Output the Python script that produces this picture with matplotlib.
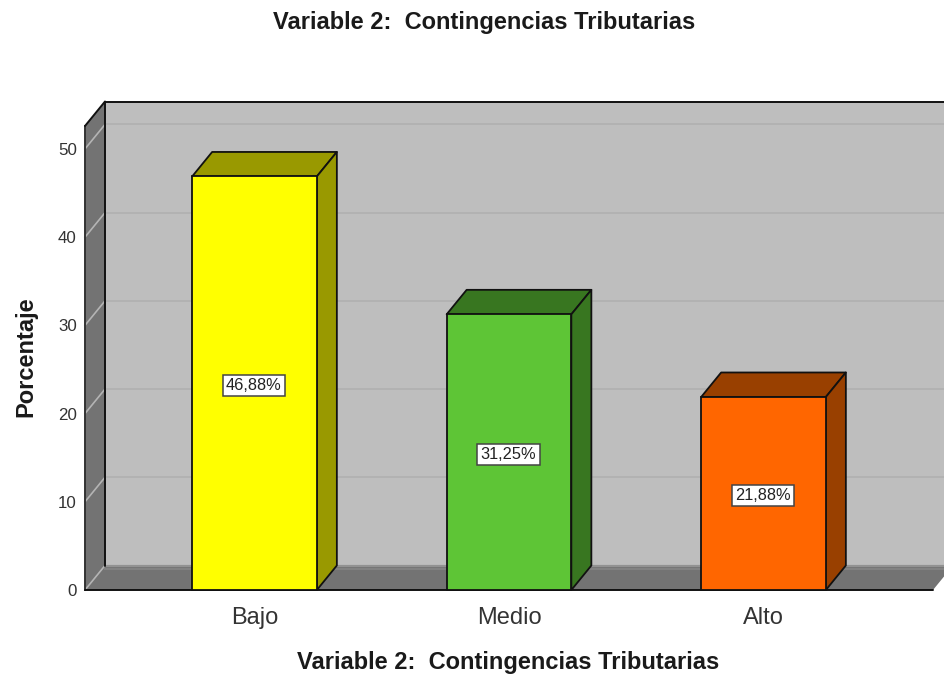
import matplotlib
matplotlib.use("Agg")
import matplotlib.pyplot as plt
from matplotlib.patches import Polygon

plt.rcParams['font.family'] = ['Liberation Sans', 'DejaVu Sans']

title = "Variable 2:  Contingencias Tributarias"
ylabel = "Porcentaje"
categories = ["Bajo", "Medio", "Alto"]
values = [46.88, 31.25, 21.88]
labels = ["46,88%", "31,25%", "21,88%"]
front_colors = ["#FFFF00", "#5EC536", "#FF6600"]
dark_colors = ["#999900", "#387620", "#994000"]
yticks = [0, 10, 20, 30, 40, 50]

W, H = 945, 675
fig = plt.figure(figsize=(W / 100, H / 100), dpi=100, facecolor="white")
L, R, T, B = 85, 933, 126, 590
ax = fig.add_axes([L / W, 1 - B / H, (R - L) / W, (B - T) / H])
x0, x1 = -0.666, 2.666
y0, y1 = 0, 52.6
ax.set_xlim(x0, x1)
ax.set_ylim(y0, y1)
ax.patch.set_visible(False)
for s in ax.spines.values():
    s.set_visible(False)

dx = 20 * (x1 - x0) / (R - L)
dy = 24.5 * (y1 - y0) / (B - T)
WALL, SHADE, BACK, GRID = "#737373", "#737373", "#BEBEBE", "#B0B0B0"

def poly(pts, fc, ec="none", lw=0, z=1):
    ax.add_patch(Polygon(pts, closed=True, facecolor=fc, edgecolor=ec, linewidth=lw,
                         zorder=z, clip_on=False, joinstyle="round"))

# back wall, floor and left wall
poly([(x0 + dx, dy), (x1 + dx, dy), (x1 + dx, y1 + dy), (x0 + dx, y1 + dy)], BACK, z=1)
for v in yticks[1:]:
    ax.plot([x0 + dx, x1 + dx], [v + dy, v + dy], color=GRID, lw=1.2, zorder=1.5, clip_on=False)
poly([(x0, 0), (x1, 0), (x1 + dx, dy), (x0 + dx, dy)], SHADE, z=2)
ax.plot([x0 + dx, x1 + dx], [dy - 0.1, dy - 0.1], color="#929292", lw=1.6, zorder=2.2, clip_on=False)
ax.plot([x0 + dx, x1 + dx], [dy - 0.35, dy - 0.35], color="#838383", lw=1.4, zorder=2.2, clip_on=False)
poly([(x0, 0), (x0 + dx, dy), (x0 + dx, y1 + dy), (x0, y1)], WALL, z=2.3)
for v in yticks:
    ax.plot([x0, x0 + dx], [v, v + dy], color="#B4B4B4", lw=1.2, zorder=2.5, clip_on=False)

# frame
k = dict(color="#111111", lw=1.4, zorder=3, clip_on=False, solid_capstyle="round")
ax.plot([x0 + dx, x1 + dx], [y1 + dy, y1 + dy], **k)
ax.plot([x0 + dx, x0 + dx], [dy, y1 + dy], **k)
ax.plot([x0, x0], [0, y1], color="#333333", lw=1.4, zorder=3, clip_on=False)
ax.plot([x0, x0 + dx], [y1, y1 + dy], **k)
ax.plot([x0, x1], [0, 0], **k)

# bars
w = 0.49
for i, (v, fc, dc, lab) in enumerate(zip(values, front_colors, dark_colors, labels)):
    a, b = i - w / 2, i + w / 2
    poly([(a, v), (b, v), (b + dx, v + dy), (a + dx, v + dy)], dc, "#111111", 1.3, z=4)
    poly([(b, 0), (b + dx, dy), (b + dx, v + dy), (b, v)], dc, "#111111", 1.3, z=4)
    ax.bar(i, v, width=w, color=fc, edgecolor="#111111", linewidth=1.3, zorder=5, clip_on=False)
    ax.text(i - 0.002, v / 2 - 0.25, lab, ha="center", va="center", fontsize=11.8, color="#222222", zorder=6,
            bbox=dict(boxstyle="square,pad=0.2", facecolor="white", edgecolor="#444444", linewidth=1.1))

ax.set_xticks(range(len(categories)), categories, fontsize=17, color="#333333")
ax.set_yticks(yticks, [str(t) for t in yticks], fontsize=12.2, color="#333333")
ax.tick_params(axis="both", length=0)
ax.tick_params(axis="x", pad=12)
ax.tick_params(axis="y", pad=6)

fig.text(484.5 / W, 1 - 22 / H, title, ha="center", va="center", fontsize=17, fontweight="bold", color="#1A1A1A")
fig.text(508 / W, 1 - 662 / H, title, ha="center", va="center", fontsize=17, fontweight="bold", color="#1A1A1A")
fig.text(25.5 / W, 1 - 357 / H, ylabel, rotation=90, ha="center", va="center", fontsize=17, fontweight="bold", color="#1A1A1A")

fig.savefig("out.png", dpi=100)
